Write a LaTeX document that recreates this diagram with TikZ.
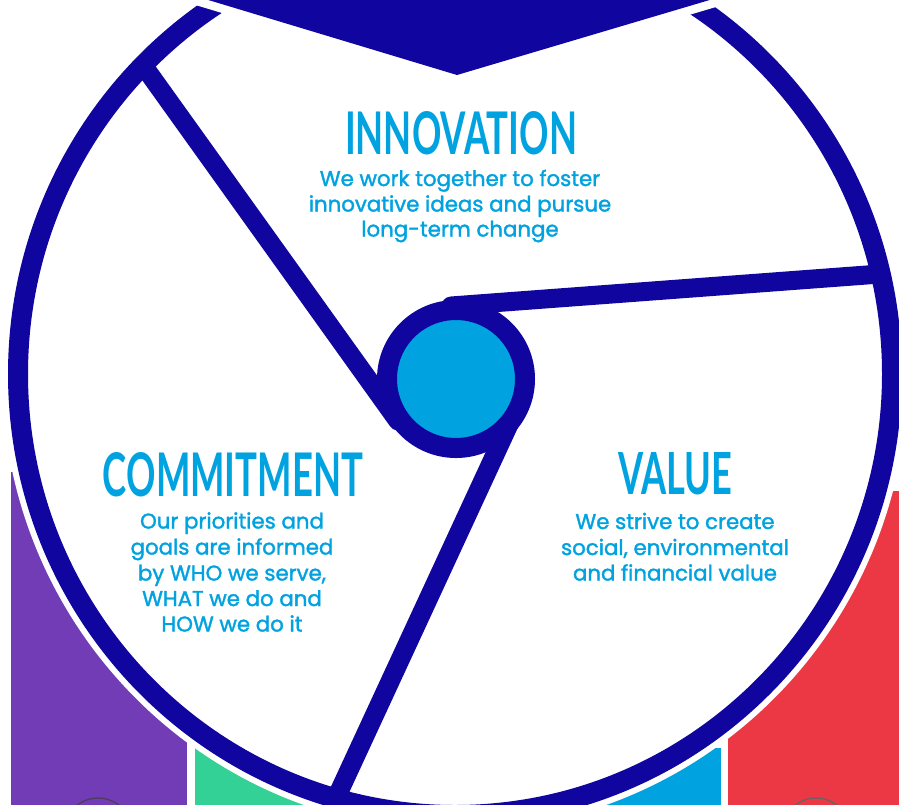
\documentclass[tikz,border=0pt]{standalone}
\usepackage{fontspec}
\usepackage{graphicx}
\setmainfont{Poppins}
\newfontfamily\bodyfont{Poppins}[FakeBold=1.6]
\newfontfamily\titlefont{Lato}
\definecolor{navy}{RGB}{16,6,159}
\definecolor{sky}{RGB}{0,163,224}
\definecolor{violet}{RGB}{114,60,183}
\definecolor{mint}{RGB}{52,209,150}
\definecolor{crimson}{RGB}{236,56,69}
\tikzset{
  titletext/.style={text=sky, inner sep=0pt, anchor=south, font=\titlefont\bfseries},
  bodytext/.style={text=sky, inner sep=0pt, anchor=base, font=\bodyfont\fontsize{21.3}{21.3}\selectfont},
  spoke/.style={draw=navy, line width=19pt, line cap=round},
  ringmark/.style={line width=1.3pt}
}
\begin{document}
\begin{tikzpicture}[x=1pt,y=-1pt]
\useasboundingbox (0,0) rectangle (899,804);
\clip (0,0) rectangle (899,804);
% coloured panels behind the wheel
\fill[violet] (11,472) rectangle (187,810);
\fill[mint] (195,748) rectangle (420,810);
\fill[sky] (480,748) rectangle (721,810);
\fill[crimson] (728,491) rectangle (905,810);
\draw[ringmark, draw={rgb,255:red,80;green,60;blue,90}] (98,832) circle[radius=34pt];
\draw[ringmark, draw={rgb,255:red,100;green,100;blue,100}] (816,832) circle[radius=34pt];
% white halo and wheel rim
\fill[white] (455,374) ellipse [x radius=453pt, y radius=457pt];
\draw[navy, line width=20pt] (455,374) ellipse [x radius=437pt, y radius=441pt];
% hub and spokes
\coordinate (hubc) at (456,379);
\coordinate (s1o) at (148,72);
\coordinate (s1i) at (398,421);
\coordinate (s2o) at (880,274);
\coordinate (s2i) at (451,306);
\coordinate (s3o) at (338,794);
\coordinate (s3i) at (517,407);
\draw[spoke] (s1o) -- (s1i);
\draw[spoke] (s2o) -- (s2i);
\draw[spoke] (s3o) -- (s3i);
\draw[navy, line width=20pt, fill=sky] (hubc) circle[radius=69pt];
% top pointer with white border
\draw[white, line width=17pt, line join=miter] (142,-20) -- (457,75) -- (777,-20) -- cycle;
\fill[navy] (142,-20) -- (457,75) -- (777,-20) -- cycle;
% texts
\node[titletext] (innT) at (461,155) {\resizebox{232pt}{43pt}{INNOVATION}};
\node[bodytext] (inn1) at (460,186) {We work together to foster};
\node[bodytext] (inn2) at (460,211.5) {innovative ideas and pursue};
\node[bodytext] (inn3) at (460,236.5) {long-term change};
\node[titletext] (comT) at (233,497) {\resizebox{260pt}{44pt}{COMMITMENT}};
\node[bodytext] (com1) at (232,528.5) {Our priorities and};
\node[bodytext] (com2) at (232,554.5) {goals are informed};
\node[bodytext] (com3) at (232,580.5) {by WHO we serve,};
\node[bodytext] (com4) at (232,606) {WHAT we do and};
\node[bodytext] (com5) at (232,631.5) {HOW we do it};
\node[titletext] (valT) at (675,495) {\resizebox{114pt}{42pt}{VALUE}};
\node[bodytext] (val1) at (675,529) {We strive to create};
\node[bodytext] (val2) at (675,555) {social, environmental};
\node[bodytext] (val3) at (675,580.5) {and financial value};
\end{tikzpicture}
\end{document}
